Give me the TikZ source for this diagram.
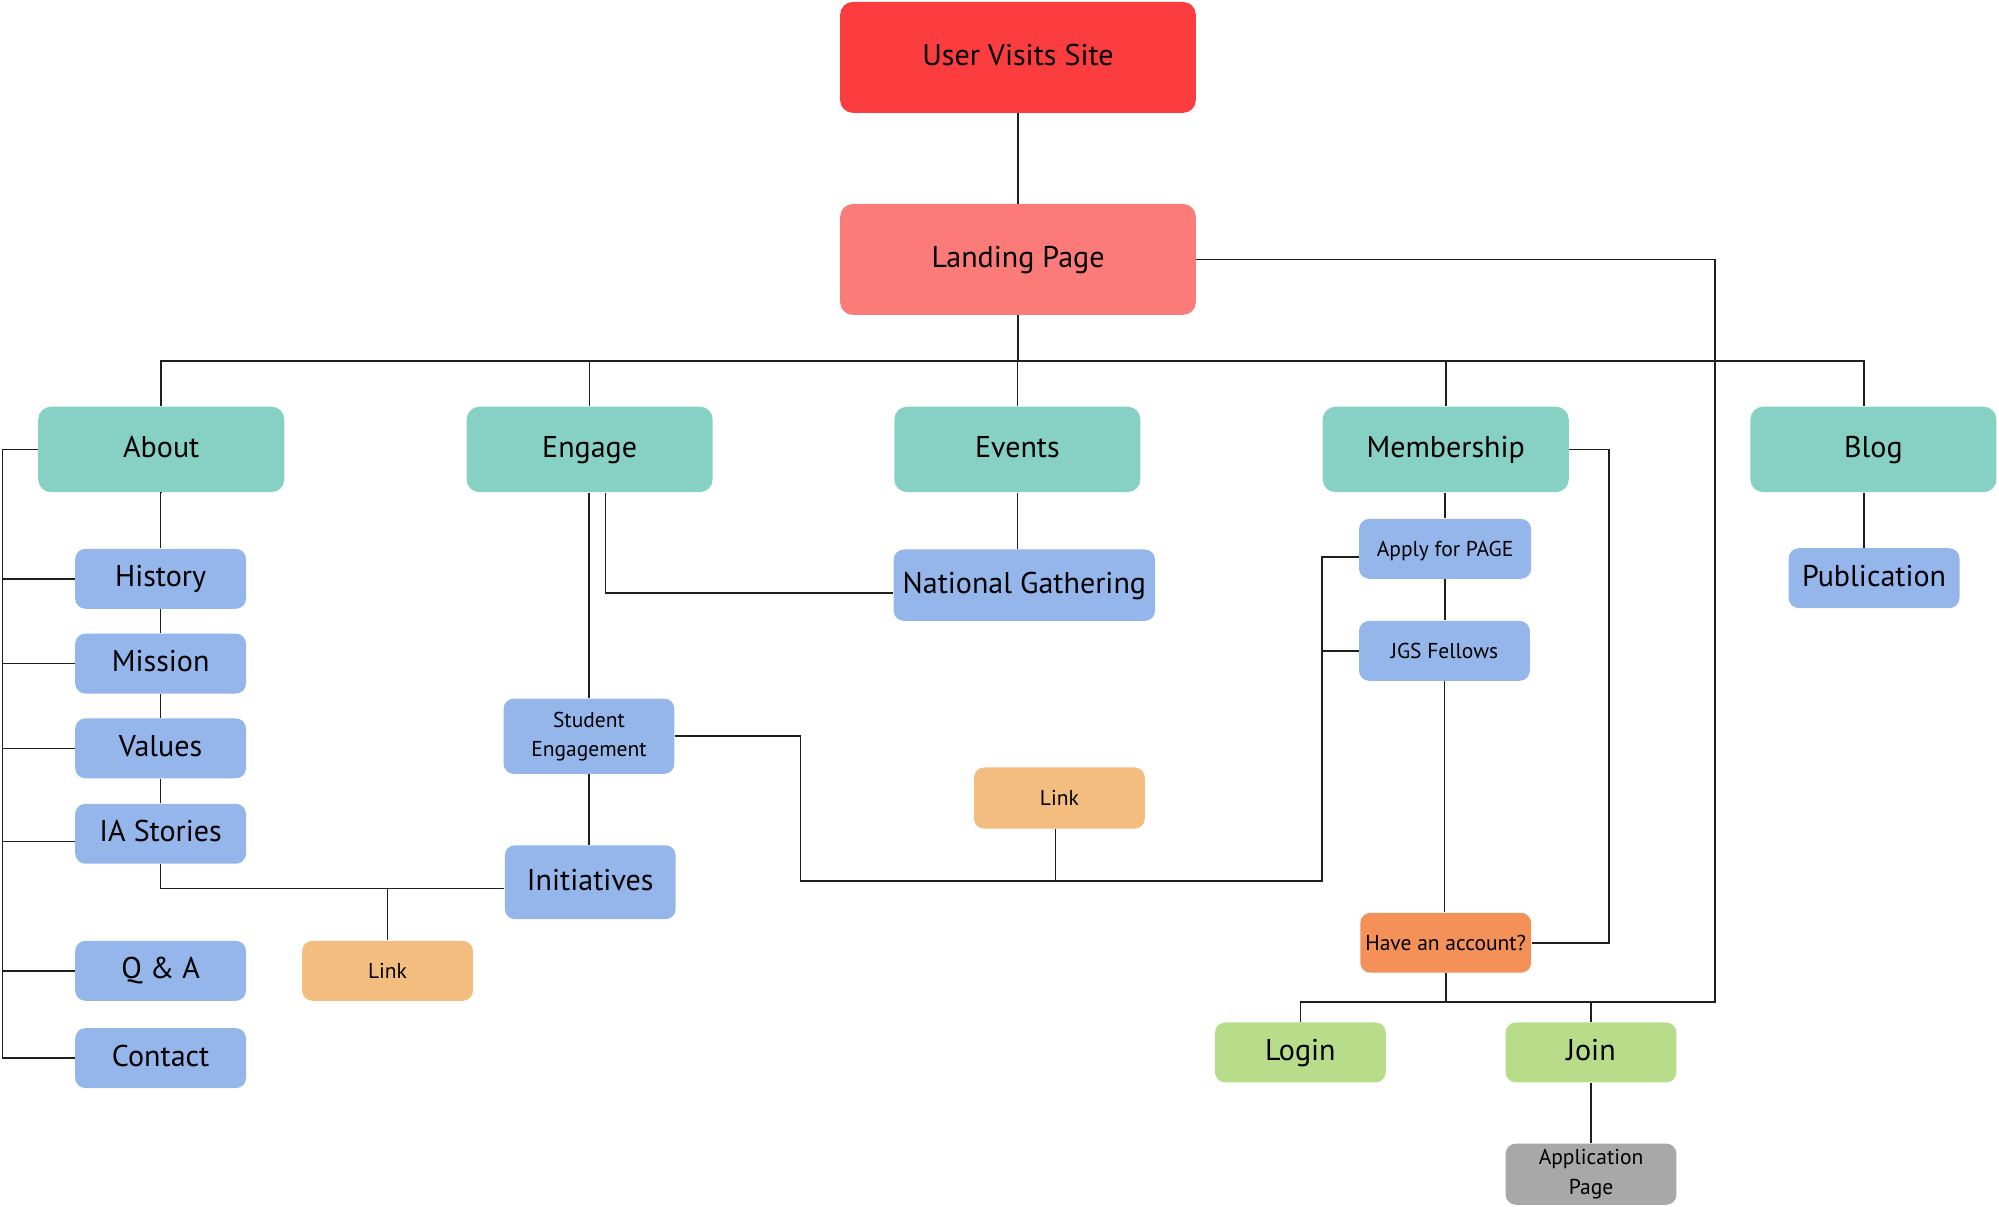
\documentclass[tikz,border=0pt]{standalone}
\usepackage{fontspec}
\setmainfont{PT Sans}
\usetikzlibrary{calc}
\definecolor{cRed}{HTML}{FC3D3F}
\definecolor{cSalmon}{HTML}{FB7B78}
\definecolor{cTeal}{HTML}{86D1C4}
\definecolor{cBlue}{HTML}{95B6EB}
\definecolor{cLOrange}{HTML}{F3BD7F}
\definecolor{cDOrange}{HTML}{F39159}
\definecolor{cGreen}{HTML}{B8DD8A}
\definecolor{cGray}{HTML}{A8A8A8}
\tikzset{
  box/.style={rounded corners=1.6mm, inner sep=0pt, align=center, text=black},
  bigtxt/.style={font=\fontsize{13.4}{15}\selectfont, text height=0.7em, text depth=0pt},
  smalltxt/.style={font=\fontsize{9.6}{13}\selectfont},
  oneline/.style={text height=0.7em, text depth=0pt},
  topbox/.style={box, bigtxt, minimum width=279*0.2mm, minimum height=87*0.2mm, rounded corners=2mm},
  mainbox/.style={box, bigtxt, fill=cTeal, minimum width=193*0.2mm, minimum height=67*0.2mm, rounded corners=2mm},
  subbox/.style={box, bigtxt, fill=cBlue, minimum width=134*0.2mm, minimum height=47*0.2mm},
  smallbox/.style={box, smalltxt, minimum width=134*0.2mm, minimum height=47*0.2mm},
  conn/.style={draw=black!88, line width=0.75pt}
}
\begin{document}
\begin{tikzpicture}[x=0.2mm, y=-0.2mm]
\useasboundingbox (0,0) rectangle (1568,946);
% nodes
\node[topbox, fill=cRed] (uvs) at (798.5,45) {User Visits Site};
\node[topbox, fill=cSalmon] (lp) at (798.5,203.5) {Landing Page};
\node[mainbox] (about) at (126.5,352.5) {About};
\node[mainbox] (engage) at (462.5,352.5) {Engage};
\node[mainbox] (events) at (798,352.5) {Events};
\node[mainbox] (membership) at (1134,352.5) {Membership};
\node[mainbox] (blog) at (1469.5,352.5) {Blog};
\node[subbox] (history) at (126,454) {History};
\node[subbox] (mission) at (126,520.5) {Mission};
\node[subbox] (values) at (126,587) {Values};
\node[subbox] (iastories) at (126,654) {IA Stories};
\node[subbox] (qa) at (126,761.5) {Q \& A};
\node[subbox] (contact) at (126,830) {Contact};
\node[smallbox, oneline, fill=cLOrange] (link1) at (304,761.5) {Link};
\node[smallbox, fill=cBlue, minimum height=59*0.2mm] (studeng) at (462,577.5) {Student\\Engagement};
\node[subbox, minimum height=58*0.2mm] (initiatives) at (463,692) {Initiatives};
\node[subbox, minimum width=205*0.2mm, minimum height=56*0.2mm] (natgath) at (803.5,459) {National Gathering};
\node[smallbox, oneline, fill=cLOrange, minimum height=48*0.2mm] (link2) at (831,626) {Link};
\node[smallbox, oneline, fill=cBlue, minimum width=135*0.2mm] (apply) at (1133.5,430.5) {Apply for PAGE};
\node[smallbox, oneline, fill=cBlue] (jgs) at (1133,510.5) {JGS Fellows};
\node[smallbox, oneline, fill=cDOrange] (haveacc) at (1134,739.5) {Have an account?};
\node[subbox, fill=cGreen] (login) at (1020,825.5) {Login};
\node[subbox, fill=cGreen] (join) at (1248,825.5) {Join};
\node[smallbox, fill=cGray, minimum height=48*0.2mm] (apppage) at (1248,921) {Application\\Page};
\node[subbox] (publication) at (1470,453.5) {Publication};
% helper coordinates
\coordinate (bus) at (798,283);
\coordinate (jbus) at (1345,786);
\coordinate (lx) at (2,352.5);
\coordinate (mr) at (1262,352.5);
\coordinate (sx) at (628,691);
\coordinate (mbus) at (1037,691);
\coordinate (iniw) at ([yshift=-1mm]initiatives.west);
\coordinate (blogx) at ([xshift=-1.5mm]blog.south);
% top
\draw[conn] (uvs.south) -- (lp.north);
\draw[conn] (lp.south) -- (lp.south |- bus);
\draw[conn] (about.north) -- (about.north |- bus) -- ([xshift=-1.5mm]blog.north |- bus) -- ([xshift=-1.5mm]blog.north);
\draw[conn] (engage.north) -- (engage.north |- bus);
\draw[conn] (events.north) -- (events.north |- bus);
\draw[conn] (membership.north) -- (membership.north |- bus);
% landing to join bus
\draw[conn] (lp.east) -| (jbus) -- (login.north |- jbus) -- (login.north);
\draw[conn] (haveacc.south) -- (haveacc.south |- jbus);
\draw[conn] (join.north) -- (join.north |- jbus);
\draw[conn] (join.south) -- (apppage.north);
% about column
\draw[conn] (about.west) -- (lx) |- (contact.west);
\draw[conn] (history.west) -- (history.west -| lx);
\draw[conn] (mission.west) -- (mission.west -| lx);
\draw[conn] (values.west) -- (values.west -| lx);
\draw[conn] ([yshift=-1.2mm]iastories.west) -- ([yshift=-1.2mm]iastories.west -| lx);
\draw[conn] (qa.west) -- (qa.west -| lx);
\draw[conn] (about.south) -- (history.north |- about.south) -- (history.north);
\draw[conn] (history.south) -- (mission.north);
\draw[conn] (mission.south) -- (values.north);
\draw[conn] (values.south) -- (iastories.north);
\draw[conn] (iastories.south) |- (iniw);
\draw[conn] (link1.north) -- (link1.north |- iniw);
% engage
\draw[conn] (studeng.north) -- (studeng.north |- engage.south);
\draw[conn] (studeng.south) -- (studeng.south |- initiatives.north);
\draw[conn] ([xshift=2.5mm]engage.south) |- ([yshift=-1.2mm]natgath.west);
\draw[conn] (events.south) -- (events.south |- natgath.north);
% student engagement to membership
\draw[conn] (studeng.east) -| (sx) -- (mbus) |- ([yshift=-1.3mm]apply.west);
\draw[conn] (jgs.west) -- (jgs.west -| mbus);
\draw[conn] ([xshift=-0.6mm]link2.south) -- ([xshift=-0.6mm]link2.south |- mbus);
% membership column
\draw[conn] (apply.north) -- (apply.north |- membership.south);
\draw[conn] (apply.south) -- (jgs.north -| apply.south);
\draw[conn] (jgs.south) -- (jgs.south |- haveacc.north);
\draw[conn] (membership.east) -| (mr |- haveacc.east) -- (haveacc.east);
% blog
\draw[conn] (blogx) -- (blogx |- publication.north);
\end{tikzpicture}
\end{document}
